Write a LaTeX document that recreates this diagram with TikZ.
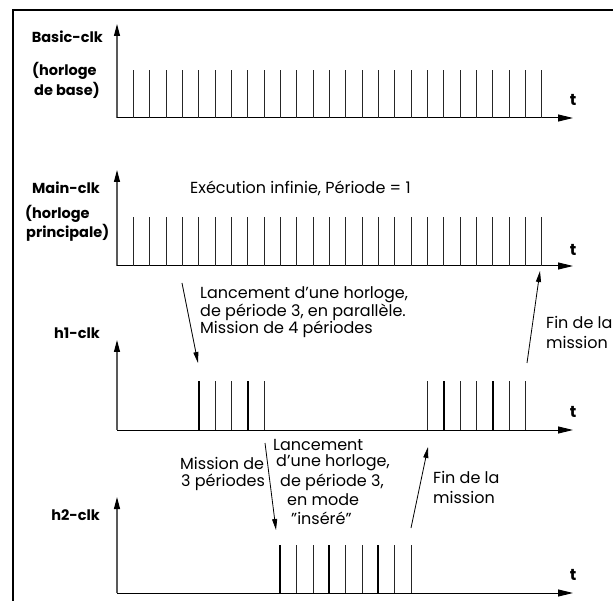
\documentclass[tikz,border=0pt]{standalone}
\usepackage{fontspec}
\setmainfont{Poppins}
\usetikzlibrary{arrows.meta}
\begin{document}
\begin{tikzpicture}[x=1pt,y=-1pt,
  frame/.style={line width=2.4pt},
  haxis/.style={line width=1pt,-{Triangle[length=15pt,width=7pt]}},
  vaxis/.style={line width=1.1pt,draw=black!65,-{Triangle[length=12pt,width=6pt,black]}},
  tick/.style={line width=0.9pt,draw=black!85},
  thicktick/.style={line width=2pt},
  note/.style={-{Triangle[length=11pt,width=5pt]},line width=0.8pt},
  lab/.style={font=\fontsize{14.5}{16}\selectfont\bfseries,inner sep=0pt},
  txt/.style={font=\fontsize{16}{18}\selectfont,inner sep=0pt,anchor=west},
  tlab/.style={font=\fontsize{16}{18}\selectfont\bfseries,inner sep=0pt}]
\useasboundingbox (0,0) rectangle (613,601);
% frame
\draw[frame] (13,601) -- (13,10) -- (613,10);

% axes origins
\coordinate (o1) at (117,118);
\coordinate (o2) at (117,266);
\coordinate (o3) at (117,430);
\coordinate (o4) at (117,593);

% Basic-clk
\draw[vaxis] (o1) -- (117,24);
\draw[haxis] (o1) -- (573,118);
\foreach \k in {0,...,25}
  \draw[tick] ({133.3+16.34*\k},118) -- ({133.3+16.34*\k},70);
\node[tlab] (t1) at (573,100) {t};
\node[lab,anchor=east] (b1) at (103,37) {Basic-clk};
\node[lab,anchor=west] (b2) at (32,71) {(horloge};
\node[lab,anchor=west] (b3) at (34,90) {de base)};

% Main-clk
\draw[vaxis] (o2) -- (117,170);
\draw[haxis] (o2) -- (573,266);
\foreach \k in {0,...,25}
  \draw[tick] ({133.3+16.34*\k},266) -- ({133.3+16.34*\k},217);
\node[tlab] (t2) at (573,250) {t};
\node[lab,anchor=east] (m1) at (100,188) {Main-clk};
\node[lab,anchor=west] (m2) at (25,214) {(horloge};
\node[lab,anchor=west] (m3) at (26,233) {principale)};
\node[txt] (exec) at (190,188) {Exécution infinie, Période = 1};

% h1-clk
\draw[vaxis] (o3) -- (117,340);
\draw[haxis] (o3) -- (573,430);
\foreach \k in {4,5,6,7,8,18,19,...,24}
  \draw[tick] ({133.3+16.34*\k},430) -- ({133.3+16.34*\k},381);
\foreach \k in {4,7,19,22}
  \draw[thicktick] ({133.3+16.34*\k},430) -- ({133.3+16.34*\k},381);
\node[tlab] (t3) at (573,412) {t};
\node[lab,anchor=east] (h1) at (100,333) {h1-clk};
\node[txt] (l1a) at (200,295) {Lancement d’une horloge,};
\node[txt] (l1b) at (200,312) {de période 3, en parallèle.};
\node[txt] (l1c) at (200,329) {Mission de 4 périodes};
\coordinate (s1) at (182,283);
\coordinate (e1) at (198,363);
\draw[note] (s1) -- (e1);
\coordinate (s2) at (527,363);
\coordinate (e2) at (540,271);
\draw[note] (s2) -- (e2);
\node[txt] (f1a) at (546,322) {Fin de la};
\node[txt] (f1b) at (546,342) {mission};

% h2-clk
\draw[vaxis] (o4) -- (117,497);
\draw[haxis] (o4) -- (573,593);
\foreach \k in {9,...,17}
  \draw[tick] ({133.3+16.34*\k},593) -- ({133.3+16.34*\k},545);
\foreach \k in {9,12,15}
  \draw[thicktick] ({133.3+16.34*\k},593) -- ({133.3+16.34*\k},545);
\node[tlab] (t4) at (573,575) {t};
\node[lab,anchor=east] (h2) at (100,515) {h2-clk};
\node[txt] (m2a) at (180,463) {Mission de};
\node[txt] (m2b) at (181,482) {3 périodes};
\node[txt] (l2a) at (273,445) {Lancement};
\node[txt] (l2b) at (276,463) {d’une horloge,};
\node[txt] (l2c) at (280,482) {de période 3,};
\node[txt] (l2d) at (287,500) {en mode};
\node[txt] (l2e) at (291,518) {"inséré"};
\coordinate (s3) at (265,443);
\coordinate (e3) at (276,530);
\draw[note] (s3) -- (e3);
\coordinate (s4) at (411,528);
\coordinate (e4) at (428,447);
\draw[note] (s4) -- (e4);
\node[txt] (f2a) at (433,477) {Fin de la};
\node[txt] (f2b) at (433,497) {mission};
\end{tikzpicture}
\end{document}
